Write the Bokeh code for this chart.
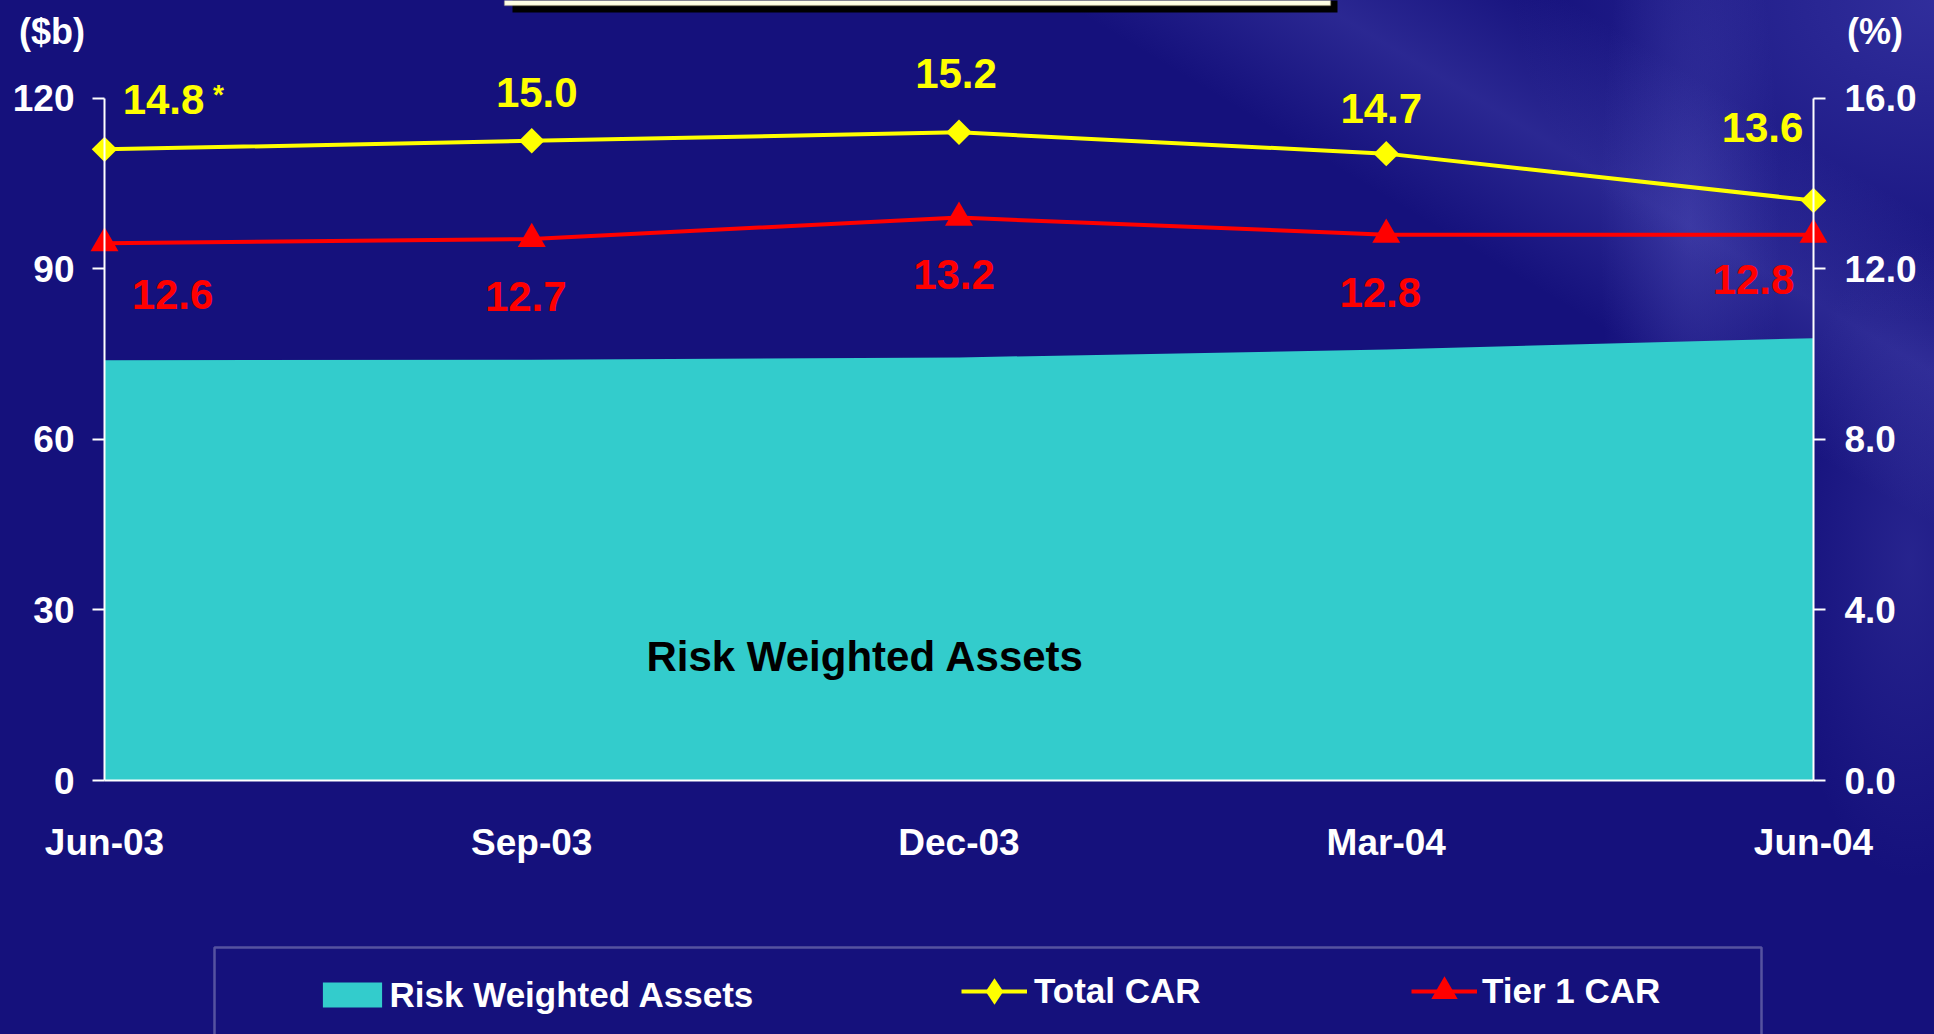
import numpy as np
from bokeh.plotting import figure
from bokeh.models import (Range1d, LinearAxis, FixedTicker, NumeralTickFormatter,
                          Legend, LegendItem, Label, BoxAnnotation, ColumnDataSource)
from bokeh.core.properties import value
from bokeh.embed import file_html
from bokeh.resources import INLINE

# ---- data -------------------------------------------------------------
quarters = ["Jun-03", "Sep-03", "Dec-03", "Mar-04", "Jun-04"]
risk_weighted_assets = [73.9, 74.0, 74.4, 75.8, 77.8]      # $b
total_car = [14.8, 15.0, 15.2, 14.7, 13.6]                 # %
tier1_car = [12.6, 12.7, 13.2, 12.8, 12.8]                 # %
left_ticks = [0, 30, 60, 90, 120]
right_ticks = [0.0, 4.0, 8.0, 12.0, 16.0]

# label nudges in pixels (dx, dy; dy positive = down)
total_dx = [59, 5, -3, -5, -51]
total_dy = [-50, -48, -59, -45, -73]
tier1_dx = [68, -6, -5, -6, -60]
tier1_dy = [51, 58, 57, 58, 45]

# ---- layout -----------------------------------------------------------
# The plot frame fills the whole canvas; the axes are pinned with
# fixed_location so that titles, legend and frame box can sit anywhere.
W, H = 1934, 1034
X_FIRST, X_LAST = 104, 1813          # canvas x of first / last quarter
Y_ZERO, Y_TOP = 780, 97.7            # canvas y of 0 and 120 ($b)
N = len(quarters) - 1
STEP = (X_LAST - X_FIRST) / N
K = (Y_ZERO - Y_TOP) / 120           # pixels per $b
PCT = 16 / 120                       # % per $b on the twin axis

def cx(px):
    return (px - X_FIRST) / STEP

def cy(py):
    return (Y_ZERO - py) / K

FONT = "Liberation Sans"
BG = "#15117C"
TEAL, YELLOW, RED = "#33CCCC", "#FFFF00", "#FF0000"

idx = list(range(len(quarters)))

p = figure(width=W, height=H, title=None, toolbar_location=None, output_backend="svg",
           x_range=Range1d(cx(0), cx(W)), y_range=Range1d(cy(H), cy(0)),
           min_border=0, tools="")
p.extra_y_ranges = {"pct": Range1d(cy(H) * PCT, cy(0) * PCT)}
p.background_fill_alpha = 0
p.border_fill_alpha = 0
p.outline_line_color = None
p.xgrid.visible = False
p.ygrid.visible = False
p.styles = {
    "background": (
        "radial-gradient(ellipse 90px 420px at 1690px 220px, rgba(120,120,225,0.20) 0%, rgba(0,0,0,0) 100%), "
        "radial-gradient(ellipse 130px 320px at 1910px 560px, rgba(120,120,225,0.18) 0%, rgba(0,0,0,0) 100%), "
        "linear-gradient(31deg, rgba(0,0,0,0) 76%, rgba(120,120,225,0.22) 83%, rgba(0,0,0,0) 90%), "
        "radial-gradient(ellipse 420px 320px at 100% 0%, rgba(100,100,215,0.35) 0%, rgba(0,0,0,0) 100%), "
        + BG
    )
}

# ---- axes -------------------------------------------------------------
def style_axis(ax):
    ax.axis_line_color = "white"
    ax.axis_line_width = 2
    ax.major_tick_line_color = "white"
    ax.major_tick_line_width = 2
    ax.minor_tick_line_color = None
    ax.major_tick_in = 0
    ax.major_tick_out = 12
    ax.major_label_text_color = "white"
    ax.major_label_text_font = FONT
    ax.major_label_text_font_style = "bold"
    ax.major_label_text_font_size = "37px"

xa = p.xaxis[0]
style_axis(xa)
xa.ticker = FixedTicker(ticks=idx)
xa.major_label_overrides = {i: q for i, q in zip(idx, quarters)}
xa.major_tick_out = 0
xa.major_label_standoff = 41
xa.bounds = (0, N)
xa.fixed_location = 0

ya = p.yaxis[0]
style_axis(ya)
ya.ticker = FixedTicker(ticks=left_ticks)
ya.formatter = NumeralTickFormatter(format="0")
ya.major_label_standoff = 18
ya.bounds = (0, 120)
ya.fixed_location = 0

ra = LinearAxis(y_range_name="pct")
style_axis(ra)
ra.ticker = FixedTicker(ticks=right_ticks)
ra.formatter = NumeralTickFormatter(format="0.0")
ra.major_label_standoff = 19
ra.bounds = (0, 16)
ra.fixed_location = N
p.add_layout(ra, "right")

# ---- series -----------------------------------------------------------
src = ColumnDataSource(dict(
    x=idx, rwa=risk_weighted_assets, total=total_car, tier1=tier1_car,
    total_txt=[f"{v:.1f}" for v in total_car], tier1_txt=[f"{v:.1f}" for v in tier1_car],
    tdx=total_dx, tdy=total_dy, rdx=tier1_dx, rdy=tier1_dy,
))

area = p.varea(x="x", y1=0, y2="rwa", source=src, fill_color=TEAL)

tl = p.line("x", "total", source=src, y_range_name="pct", line_color=YELLOW, line_width=4)
ts = p.scatter("x", "total", source=src, y_range_name="pct", marker="square", angle=np.pi / 4,
               size=18, fill_color=YELLOW, line_color=None)
rl = p.line("x", "tier1", source=src, y_range_name="pct", line_color=RED, line_width=4)
rs = p.scatter("x", "tier1", source=src, y_range_name="pct", marker="triangle",
               size=28, fill_color=RED, line_color=None)
# diamond key for the legend (zero size on the chart, the legend sizes it itself)
key_diamond = p.scatter("x", "total", source=src, y_range_name="pct", marker="diamond",
                        size=0, fill_color=YELLOW, line_color=None)

p.text("x", "total", text="total_txt", source=src, y_range_name="pct",
       x_offset="tdx", y_offset="tdy", text_align="center", text_baseline="middle",
       text_color=YELLOW, text_font=value(FONT), text_font_style="bold",
       text_font_size="42px")
p.text("x", "tier1", text="tier1_txt", source=src, y_range_name="pct",
       x_offset="rdx", y_offset="rdy", text_align="center", text_baseline="middle",
       text_color=RED, text_font=value(FONT), text_font_style="bold",
       text_font_size="42px")
# footnote marker on the first Total CAR value
p.text(x=[idx[0]], y=[total_car[0]], text=["*"], y_range_name="pct",
       x_offset=114, y_offset=-55, text_align="center", text_baseline="middle",
       text_color=YELLOW, text_font=value(FONT), text_font_style="bold",
       text_font_size="28px")

# ---- labels -----------------------------------------------------------
p.add_layout(Label(x=cx(865), y=cy(656), text="Risk Weighted Assets", text_align="center",
                   text_baseline="middle", text_color="black", text_font=FONT,
                   text_font_style="bold", text_font_size="42px"))
for txt, px in (("($b)", 51.5), ("(%)", 1874.5)):
    p.add_layout(Label(x=cx(px), y=cy(31), text=txt, text_align="center",
                       text_baseline="middle", text_color="white", text_font=FONT,
                       text_font_style="bold", text_font_size="36px"))

# title box peeking in at the top edge
p.add_layout(BoxAnnotation(left=cx(512), right=cx(1337), bottom=cy(12), top=cy(-20),
                           fill_color="black", fill_alpha=1, line_color=None))
p.add_layout(BoxAnnotation(left=cx(504), right=cx(1330), bottom=cy(5), top=cy(-20),
                           fill_color="#FFFFE4", fill_alpha=1, line_color="#C8BC84",
                           line_width=1.5))

# legend frame
p.add_layout(BoxAnnotation(left=cx(214), right=cx(1761), top=cy(947), bottom=cy(1060),
                           fill_alpha=0, line_color="#ECECF6", line_width=2.5))

# ---- legends ----------------------------------------------------------
def make_legend(items, x0, bottom, gw, gh, standoff):
    lg = Legend(items=items, location=(x0, bottom), orientation="horizontal",
                glyph_width=gw, glyph_height=gh, label_standoff=standoff, padding=0,
                margin=0, spacing=0, border_line_color=None, background_fill_alpha=0,
                label_text_color="white", label_text_font=FONT,
                label_text_font_style="bold", label_text_font_size="35px")
    p.add_layout(lg)
    return lg

make_legend([LegendItem(label="Risk Weighted Assets", renderers=[area])], 314.6, 19.5, 74, 31, 1)
make_legend([LegendItem(label="Total CAR", renderers=[tl, key_diamond])], 961, 10, 66, 66, 7)
make_legend([LegendItem(label="Tier 1 CAR", renderers=[rl, rs])], 1411, 10, 66, 66, 5)

open("out.html", "w").write(file_html(p, INLINE))
